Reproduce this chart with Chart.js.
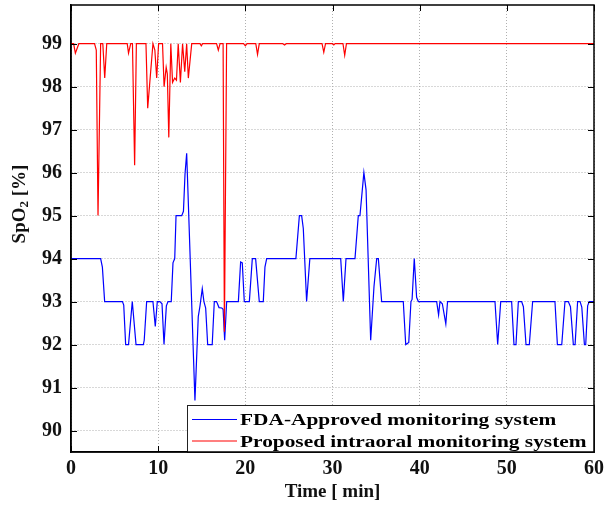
<!DOCTYPE html>
<html>
<head>
<meta charset="utf-8">
<script src="https://cdn.jsdelivr.net/npm/chart.js@4"></script>
<style>
  html, body { margin: 0; padding: 0; background: #fff; }
  #wrap { position: relative; width: 605px; height: 506px; }
</style>
</head>
<body>
<div id="wrap"><canvas id="chart" width="605" height="506"></canvas></div>
<script>
// DATA

const xTicks = [0, 10, 20, 30, 40, 50, 60];
const yTicks = [90, 91, 92, 93, 94, 95, 96, 97, 98, 99];

const legendLabels = ["FDA-Approved monitoring system", "Proposed intraoral monitoring system"];

// FDA-approved pulse oximeter (blue)
const fdaTime = [
    0, 3.4, 3.6, 3.86, 5.9, 6.05, 6.27, 6.6, 7.03, 7.46, 8.3, 8.4, 8.68, 9.4, 9.67, 9.9,
    10.2, 10.44, 10.67, 10.94, 11.13, 11.5, 11.7, 11.9, 12.05, 12.7, 12.9, 13.08, 13.27, 14.22,
    14.6, 14.8, 15.06, 15.25, 15.45, 15.68, 16.2, 16.44, 16.7, 16.98, 17.3, 17.45, 17.63, 17.86,
    19.2, 19.46, 19.65, 19.88, 20.46, 20.8, 21.18, 21.6, 22.06, 22.25, 22.45, 25.8, 26.2, 26.46,
    26.65, 27.03, 27.4, 30.94, 31.24, 31.55, 32.58, 32.96, 33.15, 33.6, 33.85, 34.38, 34.76,
    35.07, 35.26, 35.64, 38.12, 38.4, 38.75, 39.0, 39.13, 39.38, 39.65, 39.85, 41.95, 42.17,
    42.33, 42.6, 43.0, 43.2, 48.64, 48.95, 49.3, 50.55, 50.82, 51.05, 51.32, 51.7, 51.9, 52.2,
    52.58, 52.96, 55.52, 55.8, 56.3, 56.67, 57.05, 57.3, 57.63, 57.83, 58.12, 58.4, 58.6, 58.9,
    59.05, 59.27, 59.45, 60,
];
const fdaSpo2 = [
    94, 94, 93.8, 93, 93, 92.92, 92, 92, 93, 92, 92, 92.1, 93, 93, 92.42, 93,
    93, 92.95, 92, 92.9, 93, 93, 93.9, 94, 95, 95, 95.1, 95.97, 96.45, 90.7,
    92.65, 92.9, 93.3, 93.0, 92.85, 92, 92, 93, 93, 92.86, 92.85, 92.82, 92.1, 93,
    93, 93.92, 93.9, 93, 93, 94, 94, 93, 93, 93.8, 94, 94, 95, 95,
    94.7, 93, 94, 94, 93, 94, 94, 95, 95, 96, 95.6, 92.1, 93.35,
    94, 94, 93, 93, 92, 92.05, 93, 93.05, 94, 93.1, 93, 93, 92.69,
    93, 92.95, 92.48, 93, 93, 92, 93, 93, 92, 92, 93, 93, 92.88, 92,
    92, 93, 93, 92, 92, 93, 93, 92.88, 92, 92, 93, 93, 92.87, 92,
    92, 92.9, 93, 93,
];

// Proposed intraoral sensor (red)
const intraoralTime = [
    0, 0.3, 0.5, 0.9, 2.7, 2.9, 3.1, 3.4, 3.65, 3.87, 4.1, 6.45, 6.6, 6.85, 7.05, 7.3, 7.5,
    8.6, 8.8, 9.4, 9.62, 9.83, 10.05, 10.5, 10.68, 10.92, 11.05, 11.22, 11.45, 11.65, 11.9,
    12.1, 12.3, 12.55, 12.8, 13.05, 13.27, 13.46, 13.85, 14.8, 14.95, 15.1, 16.7, 16.9, 17.1,
    17.45, 17.6, 17.85, 19.8, 20.0, 20.2, 21.2, 21.4, 21.6, 24.3, 24.5, 24.7, 28.8, 29.0, 29.2,
    30.0, 30.15, 30.3, 31.2, 31.4, 31.6, 60,
];
const intraoralSpo2 = [
    99, 99, 98.78, 99, 99, 98.85, 95, 99, 99, 98.2, 99, 99, 98.78, 99, 99, 96.17, 99,
    99, 97.5, 99, 98.85, 98.2, 99, 99, 98, 98.45, 98.3, 96.82, 99, 98.1, 98.2,
    98.15, 99, 98.1, 99, 98.35, 99, 98.2, 99, 99, 98.95, 99, 99, 98.85, 99,
    99, 92.3, 99, 99, 98.95, 99, 99, 98.75, 99, 99, 98.97, 99, 99, 98.8, 99,
    99, 98.97, 99, 99, 98.73, 99, 99,
];

const toPoints = (xs, ys) => xs.map((x, i) => ({ x, y: ys[i] }));

const serif = '"Liberation Serif", "Times New Roman", serif';

// FRAME, INWARD TICKS, Y TITLE AND LEGEND (MATLAB style)

const framePlugin = {
    id: "frame",
    afterDraw(chart) {
        const { ctx, chartArea: a } = chart;
        const x = chart.scales.x;
        const y = chart.scales.y;
        ctx.save();

        // inward ticks on all four sides
        ctx.strokeStyle = "#000";
        ctx.lineWidth = 1;
        ctx.beginPath();
        xTicks.forEach((v) => {
            const px = Math.round(x.getPixelForValue(v)) + 0.5;
            ctx.moveTo(px, a.bottom);
            ctx.lineTo(px, a.bottom - 6);
            ctx.moveTo(px, a.top);
            ctx.lineTo(px, a.top + 6);
        });
        yTicks.forEach((v) => {
            const py = Math.round(y.getPixelForValue(v)) + 0.5;
            ctx.moveTo(a.left, py);
            ctx.lineTo(a.left + 6, py);
            ctx.moveTo(a.right, py);
            ctx.lineTo(a.right - 6, py);
        });
        ctx.stroke();

        // y axis title with a real subscript
        ctx.save();
        ctx.translate(20, 204);
        ctx.rotate(-Math.PI / 2);
        ctx.fillStyle = "#111";
        ctx.textBaseline = "middle";
        const big = `bold 19px ${serif}`;
        const small = `bold 13px ${serif}`;
        ctx.font = big;
        const w1 = ctx.measureText("SpO").width;
        const w3 = ctx.measureText(" [%]").width;
        ctx.font = small;
        const w2 = ctx.measureText("2").width;
        let cx = -(w1 + w2 + w3) / 2;
        ctx.font = big;
        ctx.fillText("SpO", cx, 0);
        cx += w1;
        ctx.font = small;
        ctx.fillText("2", cx, 5);
        cx += w2;
        ctx.font = big;
        ctx.fillText(" [%]", cx, 0);
        ctx.restore();

        // legend box, bottom right inside the axes
        const boxLeft = 187;
        const boxTop = 405;
        ctx.fillStyle = "#fff";
        ctx.fillRect(boxLeft, boxTop, a.right - boxLeft, a.bottom - boxTop);
        ctx.lineWidth = 1;
        ctx.strokeStyle = "#222";
        ctx.strokeRect(boxLeft + 0.5, boxTop + 0.5, a.right - boxLeft, a.bottom - boxTop);

        const rows = [
            { label: legendLabels[0], color: "#0000ff", cy: 419.5 },
            { label: legendLabels[1], color: "#ff0000", cy: 441 },
        ];
        rows.forEach((row) => {
            ctx.strokeStyle = row.color;
            ctx.lineWidth = 1.2;
            ctx.beginPath();
            ctx.moveTo(192, row.cy);
            ctx.lineTo(237, row.cy);
            ctx.stroke();

            ctx.save();
            ctx.translate(240, row.cy);
            ctx.scale(1.22, 1);
            ctx.fillStyle = "#000";
            ctx.font = `bold 17.5px ${serif}`;
            ctx.textBaseline = "middle";
            ctx.fillText(row.label, 0, 1);
            ctx.restore();
        });

        // axes box on top of everything
        ctx.strokeStyle = "#000";
        ctx.lineWidth = 1.5;
        ctx.strokeRect(a.left, a.top, a.right - a.left, a.bottom - a.top);
        ctx.restore();
    },
};

const gridStyle = { color: "#b0b0b0", lineWidth: 1, drawTicks: false };
const borderStyle = { display: true, color: "#000", width: 1.5, dash: [1, 2] };
const tickFont = { family: serif, size: 20, weight: "bold" };

const chart = new Chart(document.getElementById("chart"), {
    type: "line",
    data: {
        datasets: [
            {
                label: legendLabels[0],
                data: toPoints(fdaTime, fdaSpo2),
                borderColor: "#0000ff",
                borderWidth: 1.2,
                pointRadius: 0,
                tension: 0,
                order: 1,
            },
            {
                label: legendLabels[1],
                data: toPoints(intraoralTime, intraoralSpo2),
                borderColor: "#ff0000",
                borderWidth: 1.2,
                pointRadius: 0,
                tension: 0,
                order: 0,
            },
        ],
    },
    options: {
        responsive: false,
        animation: false,
        layout: { padding: { top: 5, right: 11, left: 0, bottom: 0 } },
        plugins: {
            legend: { display: false },
            tooltip: { enabled: false },
        },
        scales: {
            x: {
                type: "linear",
                min: 0,
                max: 60,
                afterBuildTicks: (scale) => {
                    scale.ticks = xTicks.map((value) => ({ value }));
                },
                afterFit: (scale) => {
                    scale.height = 54;
                    scale.paddingLeft = 0;
                    scale.paddingRight = 0;
                },
                grid: gridStyle,
                border: borderStyle,
                ticks: {
                    padding: 5,
                    color: "#111",
                    maxRotation: 0,
                    font: tickFont,
                },
                title: {
                    display: true,
                    text: "Time [ min]",
                    color: "#111",
                    padding: { top: 0, bottom: 3 },
                    font: { family: serif, size: 19, weight: "bold" },
                },
            },
            y: {
                min: 89.5,
                max: 99.9,
                afterBuildTicks: (scale) => {
                    scale.ticks = yTicks.map((value) => ({ value }));
                },
                afterFit: (scale) => {
                    scale.width = 71;
                    scale.paddingTop = 0;
                    scale.paddingBottom = 0;
                },
                grid: gridStyle,
                border: borderStyle,
                ticks: {
                    padding: 9,
                    color: "#111",
                    font: tickFont,
                },
            },
        },
    },
    plugins: [framePlugin],
});
</script>
</body>
</html>
